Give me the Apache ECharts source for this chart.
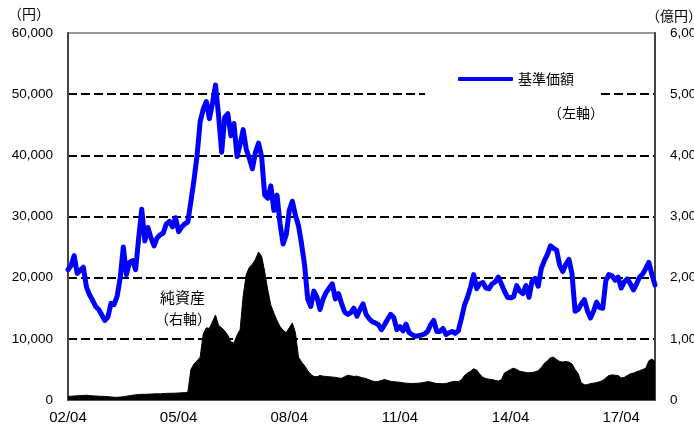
<!DOCTYPE html>
<html>
<head>
<meta charset="utf-8">
<script src="https://cdn.jsdelivr.net/npm/echarts@6/dist/echarts.min.js"></script>
<style>
html,body{margin:0;padding:0;background:#fff;}
#c{width:694px;height:444px;}
</style>
</head>
<body>
<div id="c"></div>
<script>
// Monthly points from 2002/04 to 2018/03
var startYear = 2002, startMonth = 4, monthCount = 192;
var categories = [];
(function(){
  var y = startYear, m = startMonth;
  for (var i = 0; i < monthCount; i++) {
    categories.push(String(y % 100).padStart(2,'0') + '/' + String(m).padStart(2,'0'));
    m++; if (m > 12) { m = 1; y++; }
  }
})();

// 基準価額 (円, left axis)
var navValues = [
21300,22000,23600,20700,21200,21700,18500,17200,16300,15300,14800,13900,
13000,13600,15800,15600,17000,20000,25000,20500,22500,22800,21300,26500,
31200,26000,28200,26500,25200,26500,27000,27300,28800,29200,28300,29800,
27500,28300,28800,29100,32500,36000,40000,45500,47500,48800,46000,48500,
51500,46500,40500,46200,46800,43200,45200,39800,41800,44200,41000,39500,
37800,40500,42000,39800,33500,33000,35000,31000,33500,28800,25500,27000,
31000,32500,30200,28500,25500,22000,16500,15300,17800,16800,14800,16500,
17600,18300,19000,16500,17400,15800,14400,14000,14300,15000,13700,14800,
15700,14000,13300,12800,12600,12300,11500,12300,13200,14000,13500,11500,
12000,11300,12400,11000,10700,10400,10500,10600,10800,11200,12300,13000,
11200,11200,11700,10700,11000,11200,10900,11300,13300,15500,16800,18500,
20500,18200,19000,19200,18300,18200,19000,19300,20100,19000,17800,16800,
16700,16900,18700,17800,17400,18700,16800,19400,19900,18600,21500,22800,
23800,25200,24800,24500,22000,21000,22200,23000,20600,14500,14800,15700,
16400,14600,13400,14500,16000,15100,15000,19500,20500,20300,19600,20100,
18300,19300,19800,19000,18000,19000,20100,20600,21500,22500,20500,18800
];

// 純資産 (億円, right axis)
var netAssets = [
60,62,65,68,72,75,78,72,68,65,62,60,
58,55,50,45,44,48,55,62,70,78,85,90,
93,92,95,98,100,102,100,105,108,110,110,112,
115,118,120,130,500,590,640,700,1080,1180,1170,1280,
1390,1220,1180,1130,1060,950,930,1060,1150,1700,2050,2170,
2220,2300,2420,2350,2100,1800,1550,1420,1300,1200,1140,1100,
1180,1260,1100,700,620,560,480,420,385,380,400,390,
385,380,375,370,360,355,380,405,395,385,390,375,
360,350,330,310,300,305,320,335,320,305,300,295,
290,280,275,272,270,272,275,280,290,300,295,280,
270,268,265,270,285,300,305,300,330,400,440,470,
510,490,420,370,350,340,335,320,310,330,440,470,
500,520,500,470,460,450,445,450,460,480,530,600,
640,690,700,660,630,620,630,620,590,500,430,280,
250,250,270,275,285,300,320,360,400,410,405,400,
360,370,400,430,440,460,480,500,520,640,670,630
];

var leftTicks = [0, 60000, 10000];   // min, max, interval
var rightTicks = [0, 6000, 1000];

function comma(v){ return String(v).replace(/\B(?=(\d{3})+(?!\d))/g, ','); }

var chart = echarts.init(document.getElementById('c'), null, {renderer:'canvas'});
var jp = '"Noto Sans CJK JP", sans-serif';
var num = '"Liberation Sans", Arial, sans-serif';

chart.setOption({
  animation: false,
  backgroundColor: '#fff',
  grid: { left: 68, right: 39, top: 33, bottom: 44, containLabel: false, outerBoundsMode: 'none',
          show: true, borderColor: '#999', borderWidth: 2, backgroundColor: 'transparent' },
  legend: {
    data: ['基準価額'],
    left: 458, top: 72, padding: 0,
    itemWidth: 55, itemHeight: 4, icon: 'roundRect',
    textStyle: { fontFamily: jp, fontSize: 14, color: '#000' }
  },
  xAxis: {
    type: 'category', data: categories, boundaryGap: false,
    axisLine: { lineStyle: { color: '#555', width: 2 } },
    axisTick: { show: false },
    axisLabel: {
      interval: function(i){ return i % 36 === 0; },
      color: '#000', fontFamily: num, fontSize: 15, margin: 10
    },
    splitLine: { show: false }
  },
  yAxis: [
    {
      type: 'value', min: leftTicks[0], max: leftTicks[1], interval: leftTicks[2],
      axisLine: { show: true, lineStyle: { color: '#444', width: 2 } },
      axisTick: { show: false },
      axisLabel: { color: '#000', fontFamily: num, fontSize: 13.5, margin: 15, formatter: comma },
      splitLine: { show: true, lineStyle: { color: ['#000','#000','#000','#000','#000','#000','#999'], width: 2, type: [9,4] } }
    },
    {
      type: 'value', min: rightTicks[0], max: rightTicks[1], interval: rightTicks[2],
      position: 'right',
      axisLine: { show: true, lineStyle: { color: '#444', width: 2 } },
      axisTick: { show: false },
      axisLabel: { color: '#000', fontFamily: num, fontSize: 13.5, margin: 15, formatter: comma },
      splitLine: { show: false }
    }
  ],
  series: [
    {
      name: '純資産', type: 'line', yAxisIndex: 1, data: netAssets,
      showSymbol: false, symbol: 'none',
      lineStyle: { color: '#000', width: 1 },
      areaStyle: { color: '#000', opacity: 1 },
      z: 2
    },
    {
      name: '基準価額', type: 'line', yAxisIndex: 0, data: navValues,
      showSymbol: false, symbol: 'none',
      itemStyle: { color: '#0000ff' },
      lineStyle: { color: '#0000ff', width: 5, join: 'round', cap: 'round' },
      z: 3
    }
  ],
  graphic: [
    { type: 'rect', shape: { x: 425, y: 62, width: 176, height: 66 }, style: { fill: '#fff' }, z: 1, silent: true },
    { type: 'text', left: 548, top: 106, style: { text: '（左軸）', font: '14px ' + jp, fill: '#000' }, z: 10 },
    { type: 'text', left: 160, top: 290, style: { text: '純資産', font: '15px ' + jp, fill: '#000' }, z: 10 },
    { type: 'text', left: 155, top: 312, style: { text: '（右軸）', font: '14px ' + jp, fill: '#000' }, z: 10 },
    { type: 'text', left: 8, top: 7, style: { text: '（円）', font: '14px ' + jp, fill: '#000' }, z: 10 },
    { type: 'text', left: 646, top: 9, style: { text: '（億円）', font: '14px ' + jp, fill: '#000' }, z: 10 }
  ]
});
</script>
</body>
</html>
